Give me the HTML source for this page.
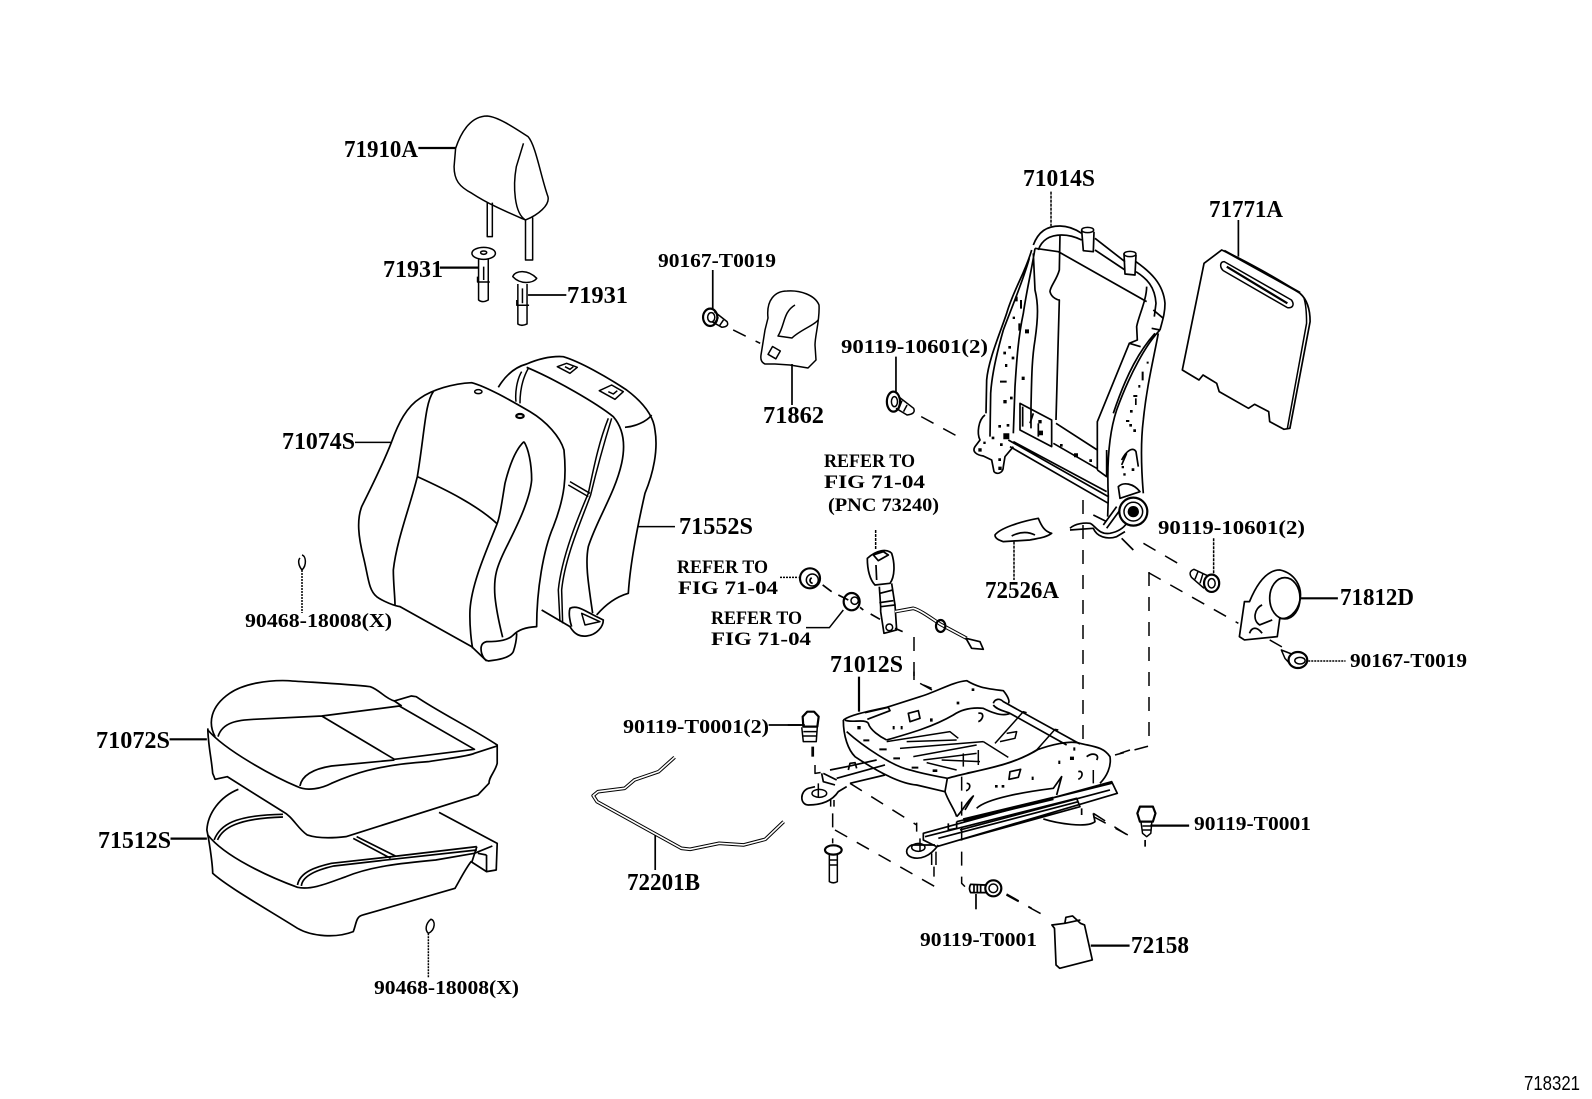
<!DOCTYPE html>
<html lang="en"><head><meta charset="utf-8"><title>Seat parts diagram 718321</title>
<style>
html,body{margin:0;padding:0;background:#fff;width:1592px;height:1099px;overflow:hidden}
svg{display:block}
path,line,ellipse,circle,rect{vector-effect:non-scaling-stroke;fill:none;stroke:#000;stroke-width:1.5;stroke-linejoin:round}
.b{stroke-width:2.2}
.l{stroke-width:1.7}
.d{stroke-dasharray:14 11;stroke-width:1.5}
.w{stroke:#fff;stroke-width:1.6}
.t{stroke-width:3.6}
.f{fill:#000;stroke:none}
text{font-family:"Liberation Serif",serif;font-weight:bold;fill:#000}
.L{font-size:24px}
.S{font-size:20px}
.R{font-size:19px}
.N{font-family:"Liberation Sans",sans-serif;font-weight:normal;font-size:20px}
</style></head><body>
<svg width="1592" height="1099" viewBox="0 0 1592 1099" xmlns="http://www.w3.org/2000/svg">
<rect x="0" y="0" width="1592" height="1099" style="fill:#fff;stroke:none"/>

<!-- headrest, guides -->
<g transform="translate(0,80) scale(.5102,.3333)">
<path d="M893,205 C905,150 925,108 955,108 C975,110 1005,140 1035,170 C1050,195 1060,290 1074,350 C1078,375 1055,405 1030,420 C1000,400 960,375 925,340 C900,320 890,300 890,260 Z"/>
<path d="M1026,190 L1012,260 C1005,320 1008,400 1030,420"/>
<path d="M955,368 L955,470 L965,470 L965,368 M1030,420 L1030,540 L1044,540 L1044,412"/>
<ellipse cx="948" cy="520" rx="23" ry="18"/><ellipse cx="948" cy="518" rx="6" ry="5"/>
<path d="M938,538 L938,660 Q945,670 957,660 L957,538 M936,590 L936,606 L960,606 M948,560 L948,600"/>
<path d="M1005,590 C1010,570 1035,568 1052,595 C1045,610 1020,615 1005,590 Z"/>
<path d="M1015,612 L1015,732 Q1022,740 1033,732 L1033,612 M1013,660 L1013,676 L1037,676 M1024,625 L1024,670"/>
<path class="b" d="M820,204 H893 M862,563 H938"/>
<path class="l" d="M1035,645 H1110 M1397,570 V690"/>
<ellipse class="b" cx="1392" cy="712" rx="14" ry="26"/>
<ellipse cx="1394" cy="712" rx="7" ry="14"/>
<path d="M1400,695 L1425,725 Q1430,740 1415,742 L1395,725 M1408,712 L1400,730 M1418,720 L1410,738"/>
<path class="d" d="M1437,750 L1490,790"/>
</g>

<!-- bracket 71862 -->
<path d="M768,318 C766,300 775,291 787,291 C800,290 815,295 819,305 C820,320 815,335 815,345 L816,360 L808,368 L790,365 L775,364 L765,364 Q760,362 761,355 L765,330 Z"/>
<path d="M795,305 C783,312 785,325 778,336 L792,338 C800,330 815,325 818,320"/>
<rect x="770" y="348" width="9" height="9" transform="rotate(30 774 352)"/>
<path class="l" d="M792,364 V405"/>

<!-- seat back -->
<g transform="translate(340,350) scale(.3333)">
<path class="l" d="M155,275 C175,220 200,170 240,145 C275,120 340,100 395,98 C440,110 510,150 570,185 C620,215 660,260 672,300 C680,380 675,440 640,530 C610,600 590,720 590,830 C555,832 535,840 520,855 C505,870 480,875 440,875 C425,878 420,890 425,910 C430,925 435,930 445,933 C470,930 510,925 520,905 C525,890 530,870 530,850"/>
<path class="l" d="M155,275 C130,340 90,420 65,470 C50,510 55,560 70,620 C85,680 85,720 110,740 C130,755 165,768 180,770 L395,890 L440,933"/>
<path class="l" d="M280,125 C255,160 255,240 232,380 C210,470 170,570 160,660 C160,700 165,740 165,765"/>
<path class="l" d="M232,380 C320,420 410,465 470,520"/>
<path class="l" d="M552,275 C530,295 510,340 495,400 C485,460 480,500 470,525 C440,600 395,700 390,780 C388,830 395,880 398,895"/>
<path class="l" d="M552,275 C565,295 575,340 575,390 C570,450 530,530 500,590 C470,650 460,680 465,740 C470,790 480,830 488,862"/>
<ellipse cx="415" cy="125" rx="11" ry="6"/><ellipse class="b" cx="540" cy="198" rx="11" ry="6"/>
<path class="l" d="M475,112 C500,70 530,50 560,42 C600,25 640,18 670,20 C720,35 800,80 860,120 C900,150 940,190 945,240 C955,300 940,370 915,430 C890,540 870,650 865,730 C830,740 800,760 770,795"/>
<path class="l" d="M560,52 C650,90 770,160 820,200 C850,235 858,280 845,340 C825,430 770,510 745,590 C735,640 745,700 758,790"/>
<path d="M545,65 C530,90 525,130 528,155 M565,55 C545,90 540,130 540,160"/>
<path d="M805,205 C775,280 760,360 745,430 C715,500 665,620 655,720 L660,815 M815,205 C795,270 770,360 752,435 C725,510 675,620 665,720 L668,820"/>
<path d="M690,395 L750,430 M685,405 L745,440"/>
<path class="l" d="M605,780 L690,830 C705,855 720,860 740,858 C770,855 790,830 790,810 L760,795 C730,780 710,765 690,775 C685,790 690,815 695,830"/>
<path d="M725,790 L780,815 L735,825 Z"/>
<path class="l" d="M855,232 C885,230 920,215 935,195"/>
<path d="M652,50 L680,40 L712,52 L690,70 Z M778,122 L815,105 L850,125 L825,148 Z M675,50 L690,58 L700,50 M805,125 L820,132 L832,122"/>
<path d="M45,277 H155 M895,530 H1005"/>
</g>

<!-- hook top -->
<path d="M302,570 C307,565 306,556 302,555 M302,570 C298,565 298,560 300,558"/>
<path d="M302,570 V613" style="stroke-dasharray:2 1"/>

<!-- seat cushion -->
<g transform="translate(60,640) scale(.4847,.3333)">
<path class="l" d="M320,290 C305,250 310,200 350,160 C380,130 430,120 470,122 C530,128 590,132 640,140 C660,150 670,175 690,183 L725,168 L735,170 C780,215 850,265 902,315 L902,370 C898,395 885,410 885,430 L862,465 L590,590 C560,595 530,595 510,585 C490,565 480,530 460,515 L345,410 L320,418 L315,400 C313,360 305,310 305,265"/>
<path class="l" d="M305,270 C340,330 440,410 490,440 C510,455 540,445 560,430 C600,405 650,375 760,365 C800,355 840,350 855,340 L902,318"/>
<path class="l" d="M326,290 C335,245 370,240 400,238 L540,228 L700,198 L855,328 L690,358 L540,228"/>
<path class="l" d="M495,438 C500,400 530,385 560,378 L690,360 M690,183 L705,198"/>
<path class="l" d="M368,448 C330,470 305,520 303,570 C310,620 315,680 315,700 C345,740 430,810 490,865 C520,890 570,895 605,875 C612,850 610,830 625,825 L815,745 C825,720 835,690 848,665 L880,695 L900,690 L902,610 L782,517"/>
<path class="l" d="M305,585 C340,650 430,710 490,742 C520,752 560,725 590,710 C640,680 700,670 775,660 L855,640 L892,618"/>
<path class="l" d="M318,600 C330,555 360,525 460,523 M325,600 C335,565 365,535 460,531"/>
<path class="l" d="M490,735 C495,695 530,680 560,670 L685,650 L860,620 M498,738 C500,705 535,688 565,678 L685,658 L860,630"/>
<path class="l" d="M612,590 L692,648 M605,595 L682,655 M860,620 L850,665 M880,645 L880,695 M862,640 L880,645"/>
<path class="b" d="M226,298 H303 M228,596 H303"/>
<path d="M760,880 C775,870 775,840 765,838 C755,850 752,870 760,880"/>
<path d="M760,880 V1015" style="stroke-dasharray:2 1"/>
<path class="t" d="M1268,352 L1235,395 L1185,420 L1165,445 L1110,455 L1100,467 L1108,485 L1282,625 L1300,628 L1360,610 L1410,615 L1455,598 L1493,545"/>
<path class="w" d="M1268,352 L1235,395 L1185,420 L1165,445 L1110,455 L1100,467 L1108,485 L1282,625 L1300,628 L1360,610 L1410,615 L1455,598 L1493,545"/>
<path class="l" d="M1228,585 V690 M1462,255 H1530"/>
</g>

<!-- back frame -->
<g transform="translate(970,220) scale(.3333)">
<path class="l" d="M190,75 C205,35 230,18 270,18 C295,18 320,30 335,40 M205,90 C215,60 240,45 275,45 C295,45 315,50 335,60"/>
<path class="l" d="M335,30 L340,92 L370,95 L372,35 M462,100 L465,162 L495,165 L498,105"/>
<ellipse cx="353" cy="30" rx="18" ry="8"/><ellipse cx="480" cy="102" rx="18" ry="8"/>
<path class="l" d="M375,55 L465,125 M375,90 L465,150"/>
<path class="l" d="M498,125 C540,155 580,190 585,250 C585,280 578,300 570,330 M498,155 C530,175 555,200 558,250 L553,290"/>
<path class="l" d="M195,85 L265,95 L530,245 M530,200 C530,240 505,290 500,320 L502,360 L478,370 L512,380 M550,270 L580,295 M545,325 L570,330"/>
<path class="l" d="M270,45 L268,150 C260,180 240,200 240,215 C245,235 265,240 268,240 L258,600"/>
<path class="l" d="M478,370 L382,605 V750 M258,610 L382,690 M250,670 L380,745 M382,750 L410,770 V690"/>
<path class="l" d="M185,90 C165,160 130,210 110,280 C90,340 55,420 50,480 L48,580 M178,115 C160,180 130,250 100,330 C80,400 65,470 62,520 L60,650"/>
<path class="l" d="M190,100 L195,210 C205,250 205,290 195,360 C185,420 185,480 183,560 L183,625 M195,85 C185,150 170,210 160,280 C145,350 140,420 135,500 L130,640"/>
<path class="l" d="M45,585 C25,600 20,640 30,660 L15,680 C5,695 20,705 40,708 L65,720 L72,755 C80,765 100,760 100,740 L105,710 L130,680"/>
<path class="l" d="M150,550 L245,600 V680 L150,630 Z M158,560 V620 M180,610 L190,580 M205,650 V610"/>
<path class="l" d="M115,660 L415,830 M130,665 L410,815 M120,680 L415,850"/>
<path class="l" d="M570,330 C530,370 480,460 440,570 C420,630 410,720 415,830 L413,890 M555,340 C510,390 470,460 430,580 M565,340 C550,420 530,500 520,600 C510,680 515,760 520,820"/>
<path class="l" d="M445,800 C460,785 490,790 510,815 L450,835 Z M455,720 C470,690 490,680 498,695 L505,740 M470,700 L455,735"/>
<circle class="b" cx="490" cy="875" r="42"/><circle cx="490" cy="875" r="28"/><circle class="f" cx="490" cy="875" r="17"/>
<path class="l" d="M300,925 C315,910 345,908 360,910 C375,915 385,945 420,940 C445,935 460,925 470,910 M300,930 L370,925 C380,950 410,960 440,950 L465,935 M455,955 L490,990 M370,885 L410,905 M400,915 L440,860 M410,925 L450,870"/>
<path class="f" d="M135,230h8v14h-8z M150,240h6v26h-6z M128,290h7v7h-7z M145,310h6v22h-6z M165,328h12v12h-12z M115,378h8v8h-8z M100,395h8v8h-8z M125,410h8v8h-8z M105,432h7v9h-7z M155,470h9v10h-9z M120,530h8v8h-8z M100,540h10v10h-10z M90,482h20v6h-20z M85,615h8v8h-8z M110,612h8v8h-8z M100,640h18v18h-18z M65,650h8v8h-8z M90,670h8v8h-8z M40,665h7v7h-7z M25,685h10v10h-10z M85,715h8v8h-8z M85,740h10v10h-10z M205,600h10v10h-10z M205,632h14v14h-14z M270,672h8v8h-8z M312,700h12v12h-12z M358,718h8v8h-8z M530,425h6v6h-6z M515,455h6v26h-6z M505,495h6v8h-6z M490,525h12v6h-12z M495,535h5v20h-5z M480,570h8v8h-8z M468,600h10v6h-10z M478,612h8v8h-8z M490,628h8v8h-8z M455,738h7v7h-7z M485,745h8v8h-8z M460,760h7v7h-7z"/>
<path class="l" d="M75,945 C90,925 150,905 205,895 C215,920 225,935 245,940 C225,955 200,955 180,960 L100,965 C85,960 75,955 75,945 Z M125,948 C150,935 175,935 195,945"/>
<path d="M132,965 V1080" style="stroke-dasharray:3 1"/>
</g>

<!-- frame right side parts -->
<g transform="translate(800,140) scale(.50505,.3333)">
<path d="M497,155 V258" style="stroke-dasharray:3 1"/>
<path class="l" d="M800,370 L835,330 C880,360 950,420 990,460 C1005,480 1010,510 1010,545 L970,865 L958,868 L930,845 L928,815 L900,793 L888,805 L830,755 L825,730 L798,705 L790,720 L757,690 Z"/>
<path d="M998,475 C1003,500 1003,530 1003,550 L965,865"/>
<path d="M840,365 L973,480 C980,495 975,505 965,503 L838,392 C830,380 832,365 840,365 Z"/>
<path class="b" d="M840,332 L990,458 M845,380 L965,490"/>
<path class="l" d="M868,240 V350 M190,650 V760"/>
<ellipse class="b" cx="185" cy="785" rx="13" ry="30"/>
<ellipse cx="187" cy="785" rx="6" ry="15"/>
<path d="M195,770 L225,805 Q230,822 212,825 L190,805 M202,782 L195,808 M212,795 L205,815"/>
<path class="d" d="M240,830 L325,900"/>
<path d="M819,1195 V1300" style="stroke-dasharray:3 1"/>
<ellipse class="b" cx="815" cy="1330" rx="15" ry="26"/>
<ellipse cx="815" cy="1330" rx="7" ry="14"/>
<path d="M808,1308 L780,1288 Q768,1295 775,1312 L800,1345 M788,1295 L782,1318 M798,1300 L792,1330"/>
<path class="d" d="M680,1210 L765,1285 M690,1298 L868,1450 M930,1500 L965,1530"/>
<path class="l" d="M890,1385 C905,1330 925,1290 950,1290 C980,1300 995,1340 990,1380 C985,1420 965,1440 950,1435 L945,1490 L880,1500 L870,1490 L880,1385 Z"/>
<ellipse class="l" cx="960" cy="1375" rx="30" ry="62"/>
<path class="l" d="M915,1395 C900,1405 895,1440 910,1455 L935,1440 M890,1480 C895,1460 905,1460 915,1480"/>
<path class="b" d="M992,1375 H1065"/>
</g>

<!-- vertical dashes -->
<path class="d" d="M1083,500 V747 M1149,572 V746 L1115,755 M914,637 V680 L932,690"/>

<!-- belt -->
<g transform="translate(780,530) scale(.3333)">
<path d="M287,0 V60" style="stroke-dasharray:3 1"/>
<path class="l" d="M262,85 C290,60 320,55 335,70 C345,100 345,140 330,160 L285,165 C270,150 262,120 262,85 Z M280,75 L310,65 L325,75 L295,92 Z M288,105 L290,150"/>
<path class="l" d="M298,170 L302,230 L345,225 L335,160 M300,190 L338,180 M298,218 L340,212 M302,245 L312,310 L350,300 L345,225 M302,230 L302,245"/>
<circle cx="328" cy="292" r="10"/>
<path class="t" d="M345,245 L400,235 C420,240 450,262 480,282 L560,325"/>
<path class="w" d="M345,245 L400,235 C420,240 450,262 480,282 L560,325"/>
<path class="l" d="M558,325 L600,335 L610,358 L575,355 Z M558,325 L575,355"/>
<ellipse class="b" cx="482" cy="288" rx="14" ry="18"/>
<circle class="b" cx="90" cy="145" r="30"/><circle cx="97" cy="150" r="18"/><path class="l" d="M95,143 C88,148 88,158 98,160"/>
<ellipse class="b" cx="215" cy="215" rx="24" ry="26"/><circle cx="224" cy="212" r="11"/>
<path d="M0,142 H55" style="stroke-dasharray:2 1"/>
<path d="M78,293 H148 L190,240"/>
<path class="l" d="M128,165 L155,185 M175,195 L205,210 M240,232 L250,240 M272,252 L300,268 M345,295 L368,305"/>
</g>

<!-- seat frame and rails -->
<g transform="translate(810,670) scale(.3333)">
<path class="b" d="M147,20 V125"/>
<path class="l" d="M100,150 C120,135 170,125 230,112 L330,80 C380,65 430,35 470,32 C500,50 520,55 580,62 C595,80 600,95 595,100"/>
<path class="l" d="M100,150 C100,200 115,240 135,260 C180,290 260,340 320,345 L405,365 L412,325"/>
<path class="l" d="M105,150 C120,160 165,145 175,160 C180,180 210,200 230,210 M165,128 L235,112 L240,122 L172,148"/>
<path class="l" d="M110,185 C160,230 250,290 300,300 C350,315 390,320 412,325"/>
<path class="l" d="M230,210 C300,190 370,170 430,135 C460,115 490,112 520,115 C550,130 580,140 600,130"/>
<path class="l" d="M412,325 C500,300 600,290 680,240 C720,225 780,210 810,220 C850,230 880,230 900,260 C905,290 890,320 870,340 M470,310 C540,295 620,280 690,235"/>
<path class="l" d="M405,365 C415,395 435,420 440,440 M440,440 C460,420 470,395 490,378 L465,420 M500,415 C530,385 650,365 730,355 L755,320 L740,375"/>
<path class="l" d="M550,100 C555,85 570,85 580,95 L810,222 M550,105 C560,120 590,125 600,130 L770,225"/>
<path d="M230,215 L420,185 L445,205 M290,215 L440,210 M270,235 L520,215 M310,260 L500,225 M520,215 L595,262 M340,270 L500,250 M555,220 L640,125 L650,128 M680,240 L735,178 L745,180 M590,190 L620,185 L615,205 L570,215 M350,278 L440,300 M460,250 V290 M505,240 V285 M395,270 L510,275"/>
<path class="l" d="M340,490 L905,335 L922,370 L380,530 L340,510 Z M345,500 L800,385 L810,410 L450,510 M440,455 L905,340 M415,460 L415,480 L440,475 V455"/>
<path class="l" d="M385,505 L805,395 M450,480 L900,360"/>
<path class="t" d="M460,450 L730,385"/>
<path class="l" d="M375,525 L305,525 C285,535 285,555 305,562 C330,570 360,560 385,525"/>
<ellipse cx="325" cy="532" rx="20" ry="12"/><path d="M330,505 V545 M365,550 V585 M378,545 V585"/>
<path class="l" d="M700,447 C740,460 830,475 855,455 L850,430 M815,415 V435"/>
<path class="l" d="M60,300 L110,290 L200,270 M80,325 L225,285 M120,340 L225,315 M115,300 L120,280 L135,278 L140,295"/>
<path class="l" d="M40,310 L80,330 M35,310 L40,335 L75,345 M110,350 L85,365 C65,395 30,405 -5,405 C-30,405 -32,365 -5,355 L15,350"/>
<ellipse cx="28" cy="370" rx="22" ry="12"/><path d="M25,340 V380 M62,390 V410 M72,390 V410"/>
<path class="d" d="M120,340 L320,465 M320,458 V485 M68,430 V520 M75,480 L375,650 M455,320 V640 L465,650 M850,430 L960,500 M372,590 V620 M590,672 L665,715 M312,5 V30 M340,45 L365,55 M930,250 L960,240 M15,285 V310 L50,305 M10,230 V260 M850,300 V340"/>
<ellipse class="b" cx="70" cy="540" rx="25" ry="14"/><path d="M58,552 L58,635 Q70,642 82,635 L82,552 M58,570 H82 M58,585 H82"/>
<circle class="b" cx="550" cy="655" r="24"/><circle cx="550" cy="655" r="13"/>
<path class="l" d="M528,645 L482,643 Q475,655 482,668 L528,668 M492,643 V668 M502,643 V668 M512,643 V668"/>
<path class="l" d="M498,672 V718"/>
<path class="b" d="M-22,140 L-8,125 L12,125 L26,140 L22,170 L-20,170 Z"/>
<path class="f" d="M142,168h10v10h-10z M160,208h18v6h-18z M208,235h22v6h-22z M250,262h20v6h-20z M305,290h20v6h-20z M368,298h14v8h-14z M248,168h6v10h-6z M272,168h6v10h-6z M360,145h8v10h-8z M440,95h8v8h-8z M485,55h8v8h-8z M555,345h8v8h-8z M575,345h8v8h-8z M665,320h6v10h-6z M745,272h6v10h-6z M780,260h12v10h-12z M790,232h6v10h-6z"/>
<path class="l" d="M295,130 L325,122 L330,145 L300,155 Z M600,305 L632,298 L625,322 L597,328 Z M505,130 C525,125 520,150 505,155 M805,305 C820,300 820,322 805,328 M470,340 C485,340 480,360 468,362 M830,260 C850,245 870,255 860,270"/>
</g>

<!-- small parts bottom right -->
<g transform="translate(780,640) scale(.5179,.3333)">
<path class="l" d="M15,255 H48"/>
<path d="M42,262 L45,305 L70,305 L72,262 M45,275 H70 M45,288 H70"/>
<path class="d" d="M62,320 V350"/>
<ellipse class="b" cx="1000" cy="60" rx="18" ry="24"/><circle cx="1004" cy="62" r="10"/>
<path d="M988,42 L968,30 L975,55 L985,72"/>
<path d="M1020,63 H1092" style="stroke-dasharray:2 1"/>
<path class="b" d="M690,520 L695,500 L720,500 L725,520 L720,545 L695,545 Z"/>
<path d="M697,545 L700,580 L708,590 L716,580 L718,545 M700,558 H718 M700,570 H718"/>
<path class="b" d="M715,557 H790"/>
<path class="d" d="M605,530 L690,600"/>
<path class="l" d="M705,600 V620"/>
<path class="l" d="M530,865 L525,855 L550,850 L552,832 L565,828 L580,850 L588,855 L603,960 L540,985 L533,975 Z M550,850 L580,840"/>
<path class="b" d="M600,917 H675"/>
<path class="d" d="M437,765 L520,835"/>
</g>

<!-- labels -->
<text class="L" x="344" y="157" textLength="74" lengthAdjust="spacingAndGlyphs">71910A</text>
<text class="L" x="383" y="277" textLength="60" lengthAdjust="spacingAndGlyphs">71931</text>
<text class="L" x="567" y="303" textLength="61" lengthAdjust="spacingAndGlyphs">71931</text>
<text class="S" x="658" y="267" textLength="118" lengthAdjust="spacingAndGlyphs">90167-T0019</text>
<text class="L" x="282" y="449" textLength="73" lengthAdjust="spacingAndGlyphs">71074S</text>
<text class="L" x="679" y="534" textLength="74" lengthAdjust="spacingAndGlyphs">71552S</text>
<text class="R" x="677" y="573" textLength="91" lengthAdjust="spacingAndGlyphs">REFER TO</text>
<text class="R" x="678" y="594" textLength="100" lengthAdjust="spacingAndGlyphs">FIG 71-04</text>
<text class="R" x="711" y="624" textLength="91" lengthAdjust="spacingAndGlyphs">REFER TO</text>
<text class="R" x="711" y="645" textLength="100" lengthAdjust="spacingAndGlyphs">FIG 71-04</text>
<text class="L" x="763" y="423" textLength="61" lengthAdjust="spacingAndGlyphs">71862</text>
<text class="L" x="1023" y="186" textLength="72" lengthAdjust="spacingAndGlyphs">71014S</text>
<text class="L" x="1209" y="217" textLength="74" lengthAdjust="spacingAndGlyphs">71771A</text>
<text class="S" x="841" y="353" textLength="147" lengthAdjust="spacingAndGlyphs">90119-10601(2)</text>
<text class="R" x="824" y="467" textLength="91" lengthAdjust="spacingAndGlyphs">REFER TO</text>
<text class="R" x="824" y="488" textLength="101" lengthAdjust="spacingAndGlyphs">FIG 71-04</text>
<text class="R" x="828" y="511" textLength="111" lengthAdjust="spacingAndGlyphs">(PNC 73240)</text>
<text class="S" x="1158" y="534" textLength="147" lengthAdjust="spacingAndGlyphs">90119-10601(2)</text>
<text class="L" x="985" y="598" textLength="74" lengthAdjust="spacingAndGlyphs">72526A</text>
<text class="L" x="1340" y="605" textLength="74" lengthAdjust="spacingAndGlyphs">71812D</text>
<text class="L" x="830" y="672" textLength="73" lengthAdjust="spacingAndGlyphs">71012S</text>
<text class="S" x="1350" y="667" textLength="117" lengthAdjust="spacingAndGlyphs">90167-T0019</text>
<text class="S" x="1194" y="830" textLength="117" lengthAdjust="spacingAndGlyphs">90119-T0001</text>
<text class="S" x="920" y="946" textLength="117" lengthAdjust="spacingAndGlyphs">90119-T0001</text>
<text class="L" x="1131" y="953" textLength="58" lengthAdjust="spacingAndGlyphs">72158</text>
<text class="L" x="96" y="748" textLength="74" lengthAdjust="spacingAndGlyphs">71072S</text>
<text class="L" x="98" y="848" textLength="73" lengthAdjust="spacingAndGlyphs">71512S</text>
<text class="S" x="623" y="733" textLength="146" lengthAdjust="spacingAndGlyphs">90119-T0001(2)</text>
<text class="L" x="627" y="890" textLength="73" lengthAdjust="spacingAndGlyphs">72201B</text>
<text class="S" x="245" y="627" textLength="147" lengthAdjust="spacingAndGlyphs">90468-18008(X)</text>
<text class="S" x="374" y="994" textLength="145" lengthAdjust="spacingAndGlyphs">90468-18008(X)</text>
<text class="N" x="1524" y="1090" textLength="56" lengthAdjust="spacingAndGlyphs">718321</text>
</svg>
</body></html>
